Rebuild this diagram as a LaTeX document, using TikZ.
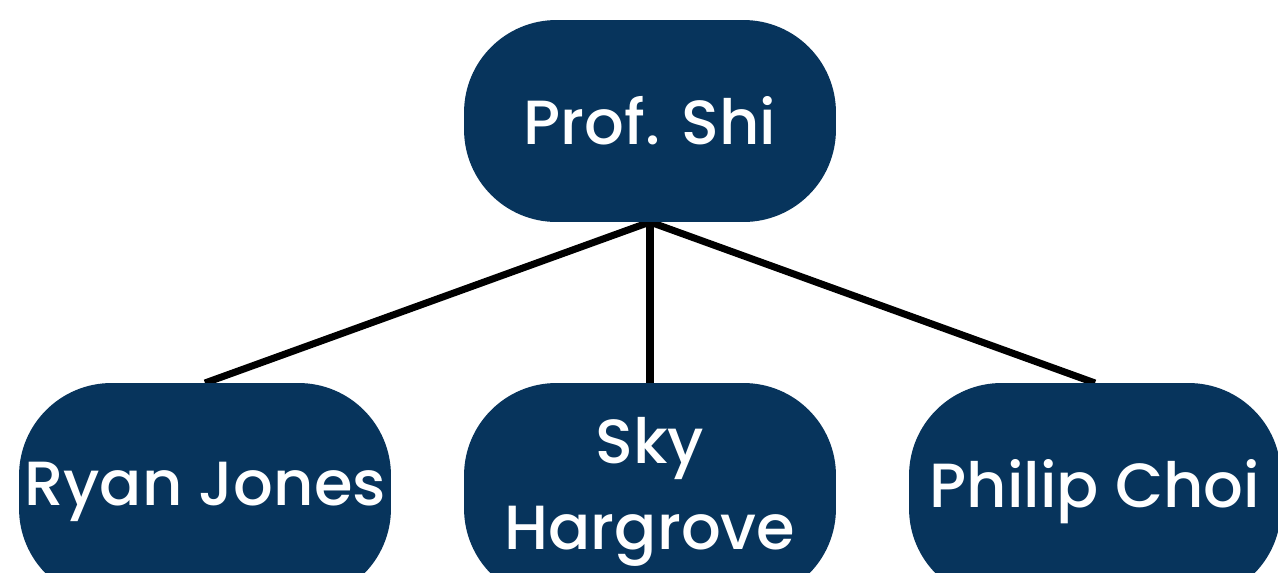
\documentclass[tikz,border=0pt]{standalone}
\usepackage{fontspec}
\setmainfont{Poppins}[UprightFont=* Medium]
\usepackage{xcolor}
\definecolor{navyNode}{HTML}{07345C}
\usepackage{tikz}
\usetikzlibrary{positioning}

\begin{document}
\begin{tikzpicture}[x=0.02cm,y=-0.02cm,
    person/.style={rectangle,rounded corners=1.85cm,fill=navyNode,text=white,
        minimum width=7.44cm,minimum height=4.04cm,inner sep=0pt,align=center,
        font=\fontsize{35.5}{49}\selectfont},
    student/.style={person,minimum height=4.36cm},
    link/.style={line width=4pt,black}]

\useasboundingbox (0,0) rectangle (1278,572);

% Links (behind the nodes)
\coordinate (hub) at (650,222);
\coordinate (ryanTop) at (205,383);
\coordinate (skyTop) at (650,383);
\coordinate (philipTop) at (1095,383);
\draw[link] (hub) -- (ryanTop);
\draw[link] (hub) -- (skyTop);
\draw[link] (hub) -- (philipTop);

% Nodes
\node[person] (shi) at (650,121) {Prof. Shi};
\node[student] (ryan) at (205,492) {Ryan Jones};
\node[student] (sky) at (650,492) {Sky\\Hargrove};
\node[student] (philip) at (1095,492) {Philip Choi};

\end{tikzpicture}
\end{document}
